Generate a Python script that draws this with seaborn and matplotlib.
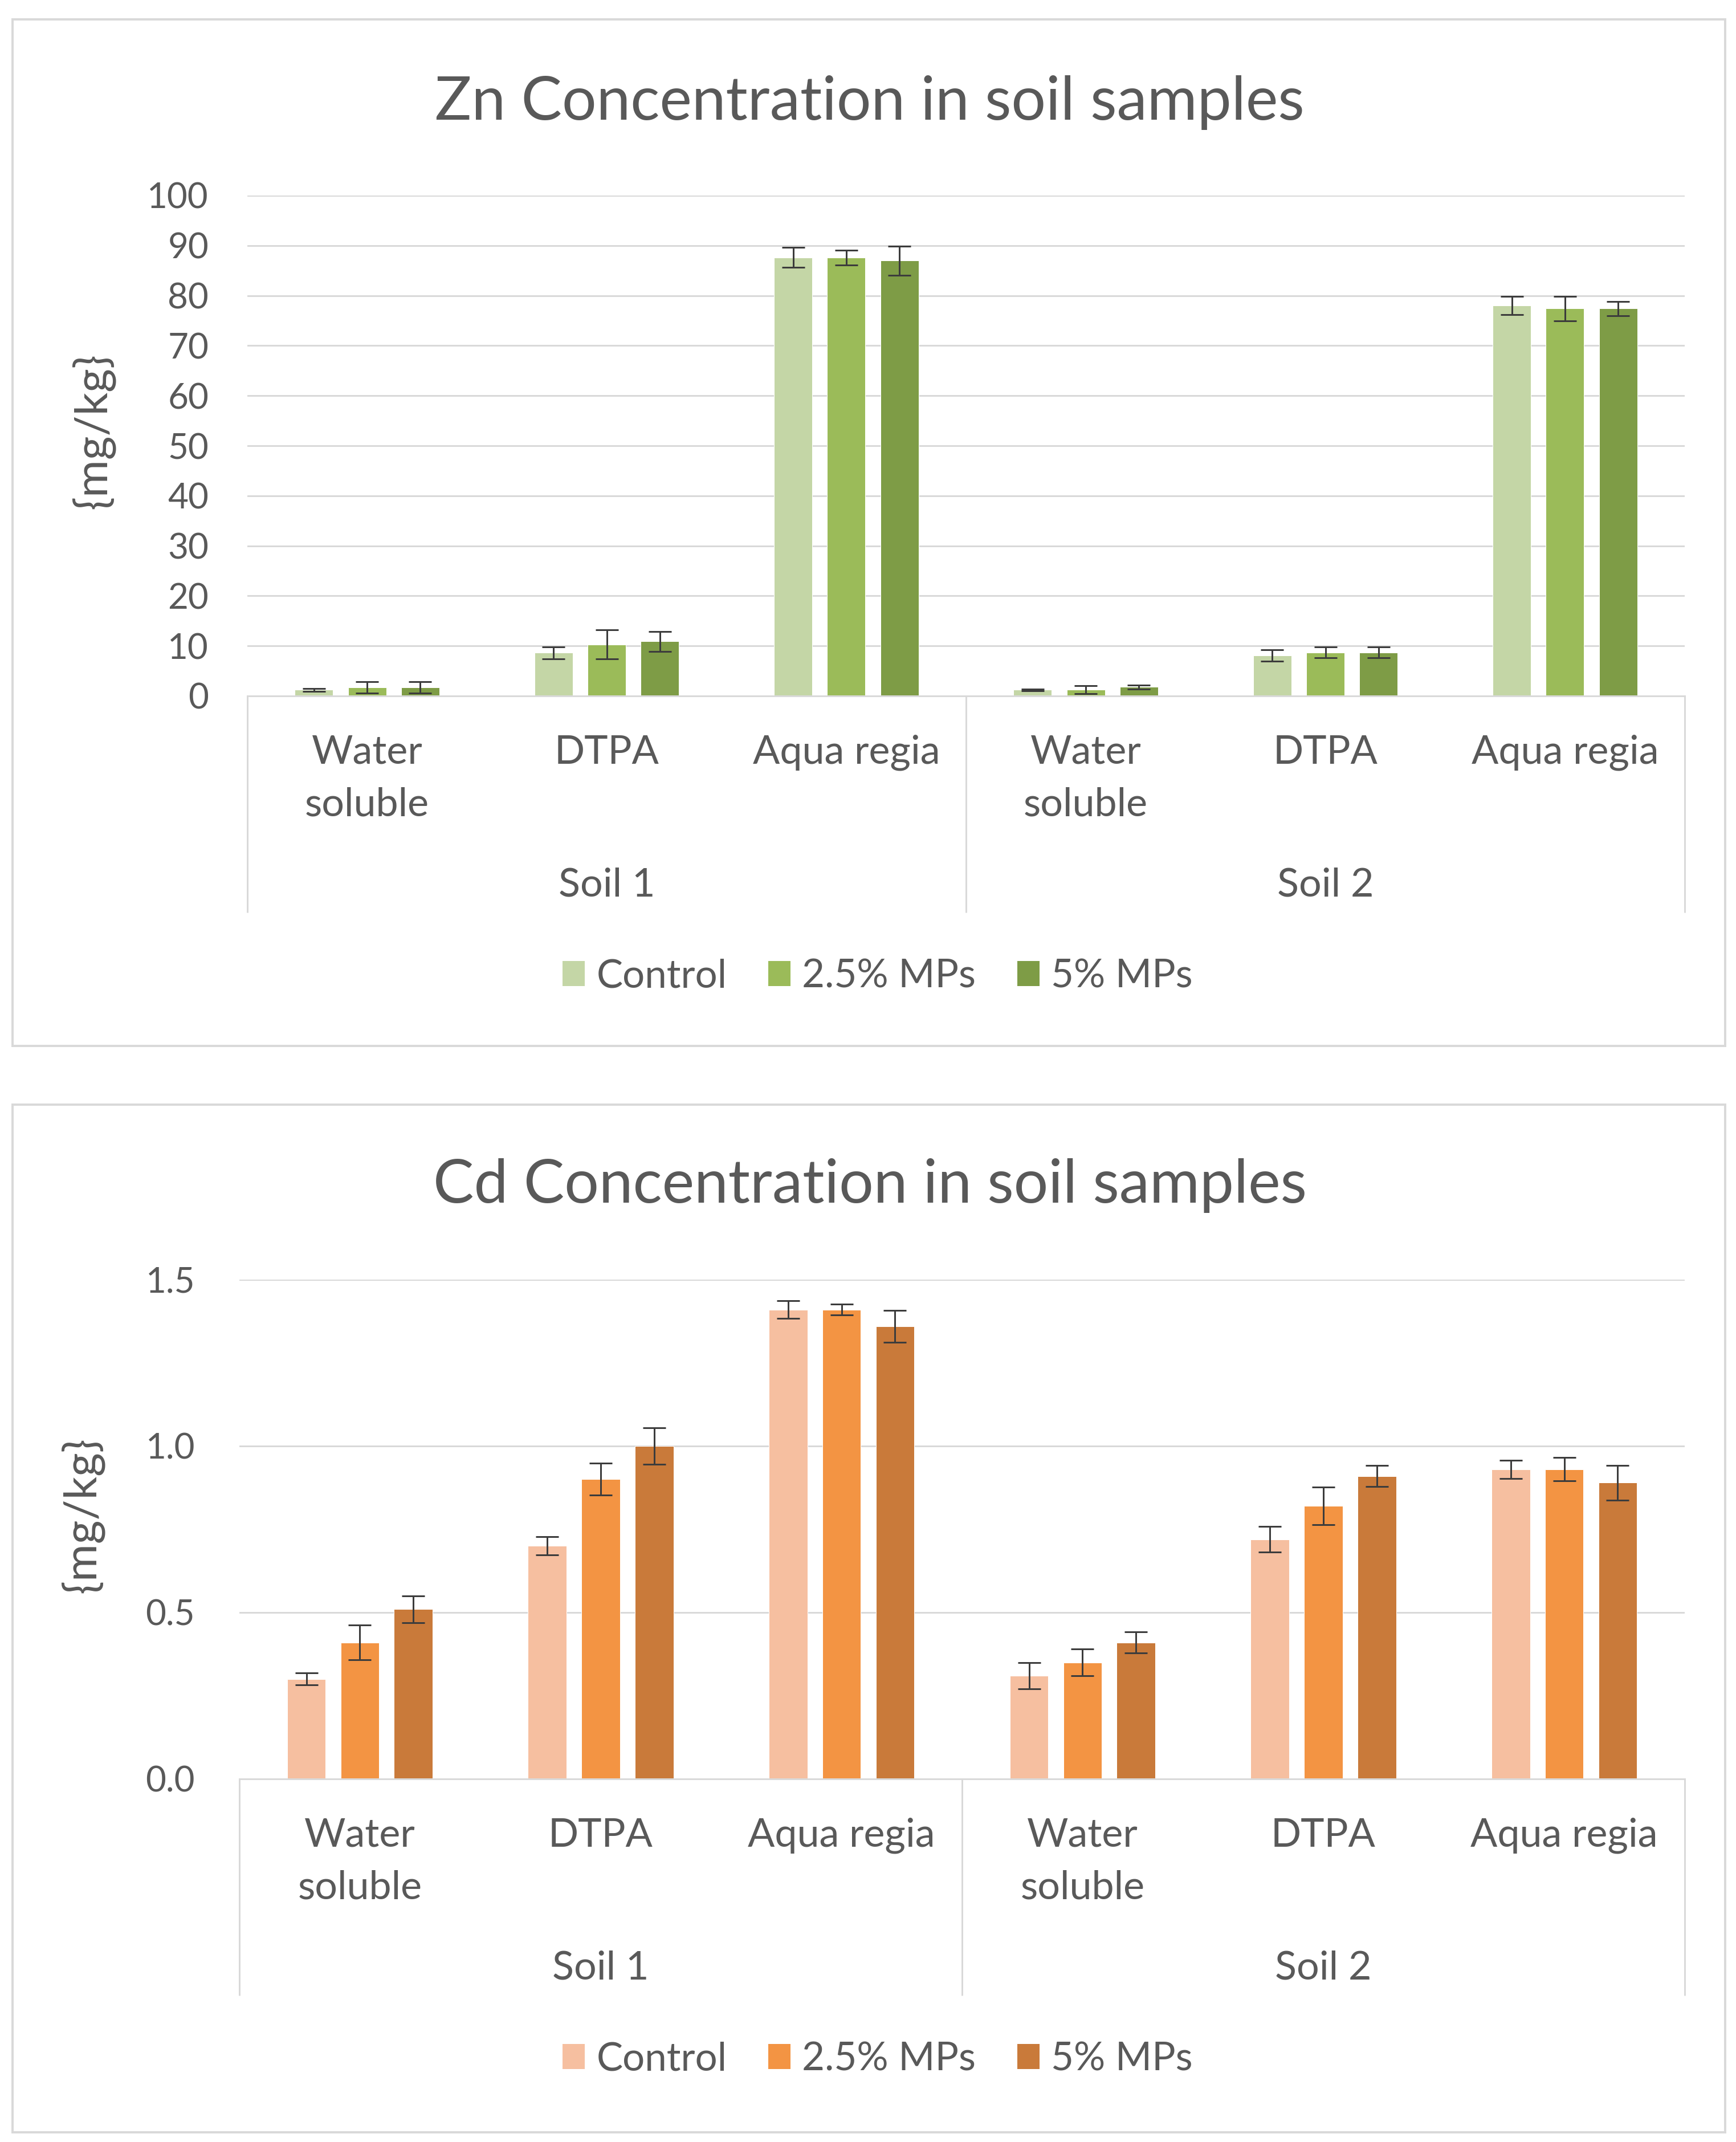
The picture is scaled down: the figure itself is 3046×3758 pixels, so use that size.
import numpy as np
import pandas as pd
import matplotlib
matplotlib.use("Agg")
import matplotlib.pyplot as plt
import matplotlib.transforms as mtrans
from matplotlib.patches import Patch, Rectangle
import seaborn as sns

# ---------------- data ----------------
soils = ["Soil 1", "Soil 2"]
methods = ["Water\nsoluble", "DTPA", "Aqua regia"]
treatments = ["Control", "2.5% MPs", "5% MPs"]

zn_control = [1.2, 8.6, 87.6, 1.2, 8.1, 78.0]
zn_mp25 = [1.7, 10.3, 87.6, 1.3, 8.7, 77.4]
zn_mp5 = [1.7, 10.9, 87.0, 1.8, 8.7, 77.4]
zn_err_control = [0.3, 1.2, 2.0, 0.2, 1.1, 1.8]
zn_err_mp25 = [1.1, 2.9, 1.5, 0.8, 1.1, 2.4]
zn_err_mp5 = [1.1, 2.0, 2.9, 0.4, 1.1, 1.4]

cd_control = [0.30, 0.70, 1.41, 0.31, 0.72, 0.93]
cd_mp25 = [0.41, 0.90, 1.41, 0.35, 0.82, 0.93]
cd_mp5 = [0.51, 1.00, 1.36, 0.41, 0.91, 0.89]
cd_err_control = [0.018, 0.027, 0.027, 0.039, 0.039, 0.027]
cd_err_mp25 = [0.052, 0.048, 0.017, 0.040, 0.057, 0.035]
cd_err_mp5 = [0.040, 0.055, 0.048, 0.031, 0.031, 0.052]

zn_ticks = [0, 10, 20, 30, 40, 50, 60, 70, 80, 90, 100]
cd_ticks = [0.0, 0.5, 1.0, 1.5]

zn_colors = ["#C4D6A6", "#9BBB59", "#7E9C46"]
cd_colors = ["#F6BFA0", "#F39443", "#C97A3A"]

# ---------------- style ----------------
sns.set_theme(style="white")
FONT = ["Lato", "DejaVu Sans"]
plt.rcParams["font.family"] = FONT
TXT = "#595959"
GRID = "#D9D9D9"

W, H = 3046, 3758
DPI = 72
fig = plt.figure(figsize=(W / DPI, H / DPI), dpi=DPI)
fig.patch.set_facecolor("white")

cat_keys = [f"{s}|{m}" for s in soils for m in methods]


def fx(px):
    return px / W


def fy(py):
    return 1 - py / H


def make_df(vals, errs):
    rows = []
    for t, v, e in zip(treatments, vals, errs):
        for k, vv, ee in zip(cat_keys, v, e):
            rows.append({"cat": k, "treat": t, "value": vv, "err": ee})
    return pd.DataFrame(rows)


def panel(box, left, right, top, bottom, vals, errs, colors, ticks, fmt,
          title, title_base, ylab_xy, legend_y, tickpad):
    # chart area border
    fig.patches.append(Rectangle((fx(box[0]), fy(box[3])), fx(box[2] - box[0]),
                                 (box[3] - box[1]) / H, transform=fig.transFigure,
                                 fill=False, ec=GRID, lw=4, zorder=0))
    ax = fig.add_axes([fx(left), fy(bottom), fx(right - left), (bottom - top) / H])
    df = make_df(vals, errs)
    sns.barplot(data=df, x="cat", y="value", hue="treat", order=cat_keys,
                hue_order=treatments, palette=colors, saturation=1,
                width=0.666, gap=0.28, errorbar=None, legend=False, ax=ax)
    # error bars from the bars drawn by seaborn
    errmap = {}
    for k in cat_keys:
        sub = df[df["cat"] == k]
        errmap[k] = list(sub.set_index("treat").loc[treatments, "err"])
    bars = [p for p in ax.patches if p.get_height() > 0]
    bycat = {}
    for p in bars:
        xc = p.get_x() + p.get_width() / 2
        bycat.setdefault(int(round(xc)), []).append(p)
    xs, ys, es = [], [], []
    for ci, ps in bycat.items():
        ps = sorted(ps, key=lambda p: p.get_x())
        for hi, p in enumerate(ps):
            xs.append(p.get_x() + p.get_width() / 2)
            ys.append(p.get_height())
            es.append(errmap[cat_keys[ci]][hi])
    ax.errorbar(xs, ys, yerr=es, fmt="none", ecolor="#3C3C3C", elinewidth=3,
                capsize=20, capthick=3, zorder=5)

    ax.set_xlim(-0.5, 5.5)
    ax.set_ylim(ticks[0], ticks[-1])
    ax.set_yticks(ticks)
    ax.set_yticklabels([fmt.format(t) for t in ticks])
    ax.set_xticks(range(6))
    ax.set_xticklabels(methods * 2, linespacing=1.55)
    ax.tick_params(axis="y", length=0, pad=tickpad, labelsize=62, labelcolor=TXT)
    ax.tick_params(axis="x", length=0, pad=68, labelsize=70, labelcolor=TXT)
    ax.set_xlabel("")
    ax.set_ylabel("")
    ax.yaxis.grid(True, color=GRID, lw=3)
    ax.xaxis.grid(False)
    ax.set_axisbelow(True)
    for s in ["left", "right", "top"]:
        ax.spines[s].set_visible(False)
    ax.spines["bottom"].set_color(GRID)
    ax.spines["bottom"].set_linewidth(3)
    ax.patch.set_alpha(0)

    # group separators and soil labels
    tr = mtrans.blended_transform_factory(ax.transData, ax.transAxes)
    depth = 380 / (bottom - top)
    for xv in [-0.5, 2.5, 5.5]:
        ax.plot([xv, xv], [0, -depth], transform=tr, color=GRID, lw=3,
                clip_on=False, solid_capstyle="butt")
    for gi, s in enumerate(soils):
        ax.text(gi * 3 + 1, -332 / (bottom - top), s, transform=tr,
                ha="center", va="center", fontsize=70, color=TXT)

    fig.text(fx(1526), fy(title_base), title, ha="center",
             va="baseline", fontsize=107, color=TXT)
    fig.text(fx(ylab_xy[0]), fy(ylab_xy[1]), "{mg/kg}", rotation=90,
             ha="center", va="center", fontsize=80, color=TXT)

    handles = [Patch(facecolor=c, edgecolor="none", label=t)
               for c, t in zip(colors, treatments)]
    fig.legend(handles=handles, loc="center", ncol=3,
               bbox_to_anchor=(fx(1540), fy(legend_y)), frameon=False,
               fontsize=69, labelcolor=TXT, handlelength=0.56,
               handleheight=0.6, handletextpad=0.3, columnspacing=1.05)
    return ax


panel((22, 34, 3027, 1835), 434, 2956, 343, 1221,
      [zn_control, zn_mp25, zn_mp5], [zn_err_control, zn_err_mp25, zn_err_mp5],
      zn_colors, zn_ticks, "{:d}", "Zn Concentration in soil samples", 210,
      (163, 756), 1713, 68)

panel((22, 1938, 3027, 3741), 420, 2956, 2245, 3121,
      [cd_control, cd_mp25, cd_mp5], [cd_err_control, cd_err_mp25, cd_err_mp5],
      cd_colors, cd_ticks, "{:.1f}", "Cd Concentration in soil samples", 2110,
      (144, 2658), 3613, 78)

fig.savefig("out.png", dpi=DPI, facecolor="white")
